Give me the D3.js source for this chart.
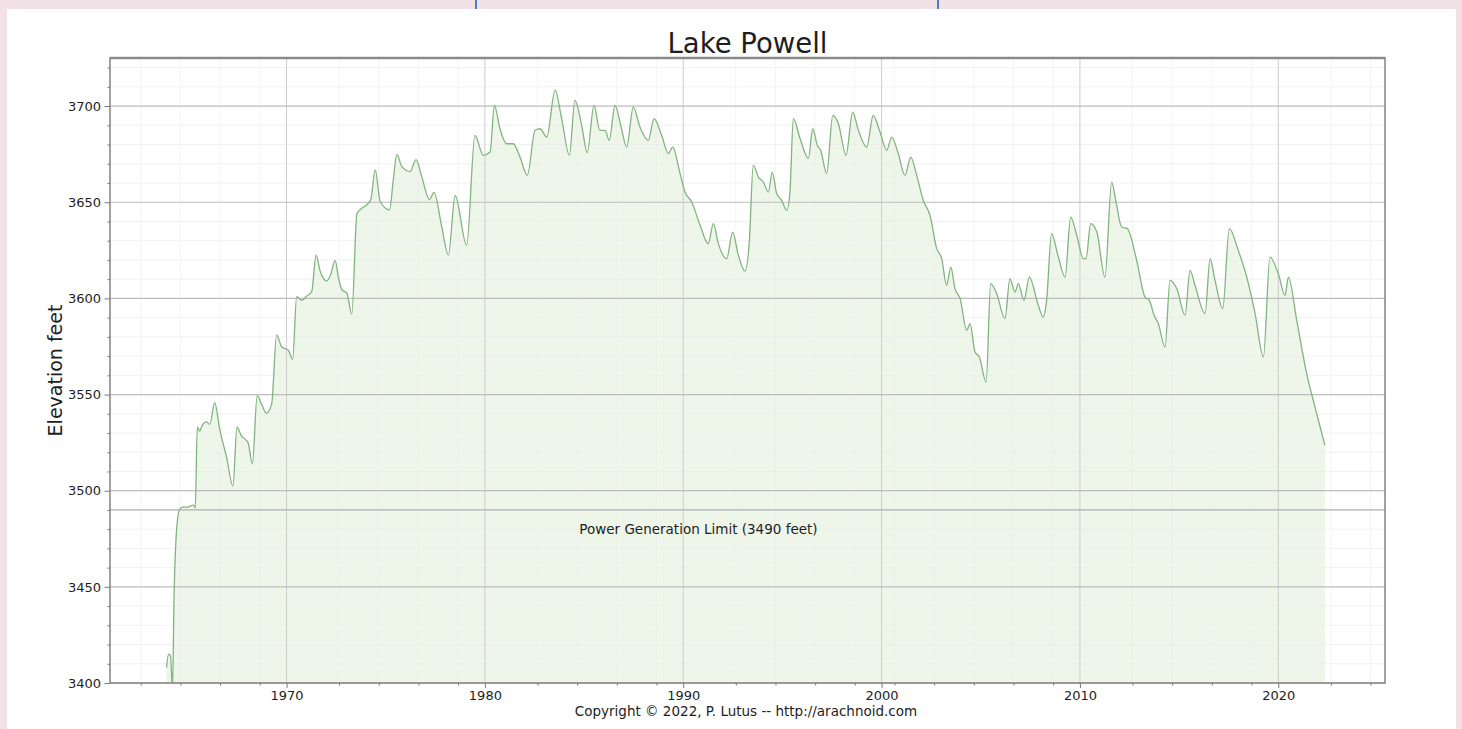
<!DOCTYPE html>
<html>
<head>
<meta charset="utf-8">
<title>Lake Powell</title>
<script src="https://cdn.jsdelivr.net/npm/d3@7"></script>
<style>
  html, body { margin: 0; padding: 0; background: #f2e2e7; }
  svg { display: block; }
  text { font-family: "DejaVu Sans", "Liberation Sans", sans-serif; fill: #1e1e1e; }
</style>
</head>
<body>
<svg id="chart" width="1462" height="729"></svg>
<script>
// Lake Powell surface elevation (feet above sea level) by decimal year
const years = [
  1963.95, 1964.05, 1964.15, 1964.25, 1964.33, 1964.46, 1964.60, 1964.75, 1965.00, 1965.30,
  1965.40, 1965.50, 1965.62, 1965.75, 1965.96, 1966.13, 1966.38, 1966.63, 1966.97, 1967.30,
  1967.50, 1967.72, 1968.06, 1968.28, 1968.52, 1968.74, 1968.99, 1969.25, 1969.50, 1969.76,
  1970.09, 1970.31, 1970.51, 1970.77, 1971.02, 1971.27, 1971.49, 1971.69, 1972.03, 1972.23,
  1972.45, 1972.62, 1972.79, 1973.04, 1973.29, 1973.55, 1973.80, 1974.05, 1974.25, 1974.47,
  1974.72, 1975.19, 1975.39, 1975.56, 1975.81, 1976.23, 1976.53, 1976.82, 1977.20, 1977.44,
  1977.83, 1978.16, 1978.50, 1979.08, 1979.50, 1979.92, 1980.26, 1980.48, 1980.76, 1981.10,
  1981.43, 1981.77, 1982.14, 1982.53, 1982.78, 1983.12, 1983.54, 1983.87, 1984.26, 1984.54,
  1984.88, 1985.16, 1985.50, 1985.80, 1986.06, 1986.27, 1986.56, 1986.85, 1987.15, 1987.48,
  1987.82, 1988.24, 1988.53, 1988.91, 1989.25, 1989.47, 1989.84, 1990.09, 1990.43, 1990.85,
  1991.26, 1991.52, 1991.77, 1992.19, 1992.49, 1992.78, 1993.11, 1993.33, 1993.53, 1993.79,
  1994.04, 1994.29, 1994.49, 1994.71, 1994.96, 1995.22, 1995.38, 1995.55, 1995.89, 1996.31,
  1996.53, 1996.76, 1996.93, 1997.23, 1997.54, 1997.82, 1998.21, 1998.54, 1998.83, 1999.25,
  1999.58, 1999.92, 2000.26, 2000.51, 2000.84, 2001.18, 2001.47, 2001.77, 2002.10, 2002.44,
  2002.78, 2003.03, 2003.28, 2003.49, 2003.70, 2003.96, 2004.29, 2004.46, 2004.71, 2004.93,
  2005.27, 2005.50, 2005.80, 2006.22, 2006.47, 2006.73, 2006.89, 2007.18, 2007.45, 2007.90,
  2008.15, 2008.32, 2008.57, 2008.91, 2009.25, 2009.53, 2009.84, 2010.17, 2010.31, 2010.54,
  2010.85, 2011.26, 2011.60, 2011.82, 2012.10, 2012.39, 2012.86, 2013.28, 2013.50, 2013.74,
  2013.95, 2014.29, 2014.54, 2014.88, 2015.30, 2015.55, 2015.80, 2016.31, 2016.56, 2016.81,
  2017.20, 2017.53, 2017.98, 2018.41, 2018.83, 2019.25, 2019.58, 2020.00, 2020.34, 2020.51,
  2020.93, 2021.43, 2021.85, 2022.35
];

const elevations = [
  3408.0, 3415.0, 3414.0, 3397.0, 3445.0, 3480.0, 3490.0, 3491.5, 3491.5, 3492.5,
  3491.0, 3533.0, 3531.0, 3534.0, 3535.8, 3534.5, 3545.8, 3532.0, 3517.7, 3502.4,
  3533.0, 3528.6, 3525.0, 3514.0, 3549.4, 3545.0, 3540.3, 3545.0, 3581.0, 3574.7,
  3573.0, 3568.3, 3600.9, 3599.0, 3601.2, 3603.6, 3622.5, 3614.4, 3609.0, 3612.6,
  3619.8, 3610.8, 3604.5, 3602.7, 3591.8, 3644.2, 3646.9, 3648.7, 3651.4, 3666.8,
  3650.5, 3646.0, 3662.3, 3674.9, 3668.6, 3665.9, 3672.2, 3663.2, 3651.4, 3655.1,
  3637.0, 3622.5, 3653.5, 3627.6, 3684.7, 3674.4, 3676.1, 3700.4, 3688.2, 3680.4,
  3680.4, 3673.5, 3664.0, 3687.4, 3688.2, 3683.9, 3708.3, 3693.5, 3674.4, 3703.0,
  3690.0, 3675.8, 3700.4, 3687.4, 3687.4, 3682.2, 3700.4, 3690.0, 3678.7, 3699.5,
  3689.1, 3682.2, 3693.5, 3684.8, 3675.3, 3678.7, 3664.9, 3655.3, 3650.1, 3638.0,
  3628.5, 3638.9, 3628.5, 3620.7, 3634.5, 3622.4, 3614.2, 3629.3, 3669.2, 3663.1,
  3660.5, 3655.3, 3665.7, 3654.5, 3651.0, 3645.8, 3655.3, 3693.5, 3683.1, 3672.7,
  3688.2, 3679.6, 3677.0, 3664.9, 3695.2, 3690.9, 3674.4, 3696.9, 3687.4, 3678.7,
  3695.2, 3686.5, 3677.0, 3683.9, 3675.3, 3664.0, 3673.5, 3664.0, 3651.0, 3643.2,
  3625.9, 3620.7, 3606.8, 3616.3, 3605.1, 3599.9, 3583.4, 3586.9, 3572.1, 3569.5,
  3556.5, 3607.7, 3602.5, 3589.5, 3610.3, 3603.3, 3607.7, 3599.0, 3611.1, 3596.4,
  3590.3, 3599.0, 3633.7, 3621.5, 3611.1, 3642.3, 3632.8, 3620.7, 3620.7, 3638.9,
  3634.5, 3611.1, 3660.5, 3650.1, 3637.1, 3636.3, 3619.8, 3600.7, 3599.0, 3591.2,
  3586.9, 3574.7, 3609.4, 3605.1, 3591.2, 3614.6, 3606.8, 3592.1, 3620.7, 3609.4,
  3594.7, 3636.3, 3625.0, 3611.1, 3592.1, 3569.5, 3621.5, 3612.9, 3601.6, 3611.1,
  3588.6, 3560.9, 3543.5, 3523.6
];

// Axis ticks
const xTicks = [1970, 1980, 1990, 2000, 2010, 2020];
const xTickLabels = ["1970", "1980", "1990", "2000", "2010", "2020"];
const xMinorTicks = [1962.65, 1964.65, 1966.65, 1968.65, 1972.65, 1974.65, 1976.65, 1978.65,
  1982.65, 1984.65, 1986.65, 1988.65, 1992.65, 1994.65, 1996.65, 1998.65, 2000.65,
  2002.65, 2004.65, 2006.65, 2008.65, 2012.65, 2014.65, 2016.65, 2018.65, 2022.65, 2024.65];
const yTicks = [3400, 3450, 3500, 3550, 3600, 3650, 3700];
const yTickLabels = ["3400", "3450", "3500", "3550", "3600", "3650", "3700"];
const yMinorTicks = [3410, 3420, 3430, 3440, 3460, 3470, 3480, 3490, 3510, 3520, 3530, 3540,
  3560, 3570, 3580, 3590, 3610, 3620, 3630, 3640, 3660, 3670, 3680, 3690, 3710, 3720];

const limitElevation = 3490;
const limitLabel = "Power Generation Limit (3490 feet)";
const chartTitle = "Lake Powell";
const yAxisTitle = "Elevation feet";
const creditText = "Copyright \u00a9 2022, P. Lutus -- http://arachnoid.com";

const xDomain = [1961.1, 2025.38];
const yDomain = [3400, 3725];

const svg = d3.select("#chart");
const W = 1462, H = 729;
const plot = { left: 110, right: 1385, top: 58, bottom: 683 };

// Page backdrop: white card on a pink page, with two blue rules above
svg.append("rect").attr("x", 0).attr("y", 0).attr("width", W).attr("height", H).attr("fill", "#f2e2e7");
svg.append("rect").attr("x", 7).attr("y", 9).attr("width", 1449).attr("height", H - 9).attr("fill", "#ffffff");
[476, 938].forEach(x => {
  svg.append("line").attr("x1", x).attr("x2", x).attr("y1", 0).attr("y2", 9)
    .attr("stroke", "#4d7cc4").attr("stroke-width", 2);
});

const x = d3.scaleLinear().domain(xDomain).range([plot.left, plot.right]);
const y = d3.scaleLinear().domain(yDomain).range([plot.bottom, plot.top]);

svg.append("defs").append("clipPath").attr("id", "plot-clip")
  .append("rect").attr("x", plot.left).attr("y", plot.top)
  .attr("width", plot.right - plot.left).attr("height", plot.bottom - plot.top);

const data = years.map((yr, i) => ({ year: yr, elev: elevations[i] }));

const area = d3.area()
  .curve(d3.curveMonotoneX)
  .x(d => x(d.year))
  .y0(y(yDomain[0]))
  .y1(d => y(d.elev));
const line = d3.line()
  .curve(d3.curveMonotoneX)
  .x(d => x(d.year))
  .y(d => y(d.elev));

// filled region under the elevation trace
const marks = svg.append("g").attr("clip-path", "url(#plot-clip)");
marks.append("path").datum(data).attr("d", area).attr("fill", "#eef6ea");

// minor grid
const grid = svg.append("g");
grid.selectAll("line.ymin").data(yMinorTicks).enter().append("line")
  .attr("x1", plot.left).attr("x2", plot.right)
  .attr("y1", d => y(d)).attr("y2", d => y(d))
  .attr("stroke", "#ececec").attr("stroke-opacity", 0.7).attr("stroke-width", 1);
grid.selectAll("line.xmin").data(xMinorTicks.filter(d => d > xDomain[0] && d < xDomain[1])).enter().append("line")
  .attr("x1", d => x(d)).attr("x2", d => x(d))
  .attr("y1", plot.top).attr("y2", plot.bottom)
  .attr("stroke", "#ececec").attr("stroke-opacity", 0.5).attr("stroke-width", 1);

// major grid
const majorGrid = svg.append("g");
majorGrid.selectAll("line.xmaj").data(xTicks).enter().append("line")
  .attr("x1", d => x(d)).attr("x2", d => x(d))
  .attr("y1", plot.top).attr("y2", plot.bottom)
  .attr("stroke", "#cdcdcd").attr("stroke-width", 1);
majorGrid.selectAll("line.ymaj").data(yTicks).enter().append("line")
  .attr("x1", plot.left).attr("x2", plot.right)
  .attr("y1", d => y(d)).attr("y2", d => y(d))
  .attr("stroke", "#bcbcbc").attr("stroke-width", 1.2);

// power generation limit
svg.append("line")
  .attr("x1", plot.left).attr("x2", plot.right)
  .attr("y1", y(limitElevation)).attr("y2", y(limitElevation))
  .attr("stroke", "#b0b0b0").attr("stroke-width", 1.2);
svg.append("text")
  .attr("x", x(1984.76)).attr("y", y(limitElevation) + 24)
  .attr("font-size", 13.5).attr("text-anchor", "start")
  .text(limitLabel);

// elevation trace
const lineLayer = svg.append("g").attr("clip-path", "url(#plot-clip)");
lineLayer.append("path").datum(data).attr("d", line)
  .attr("fill", "none").attr("stroke", "#82b480").attr("stroke-width", 1.3)
  .attr("stroke-linejoin", "round");

// frame
svg.append("rect")
  .attr("x", plot.left).attr("y", plot.top)
  .attr("width", plot.right - plot.left).attr("height", plot.bottom - plot.top)
  .attr("fill", "none").attr("stroke", "#8a8a8a").attr("stroke-width", 1.6);
svg.append("line").attr("x1", plot.left).attr("x2", plot.right)
  .attr("y1", plot.top).attr("y2", plot.top)
  .attr("stroke", "#8a8a8a").attr("stroke-width", 2.4);

// axes
const xAxis = d3.axisBottom(x).tickValues(xTicks).tickSize(5).tickPadding(3)
  .tickFormat((d, i) => xTickLabels[i]);
const gx = svg.append("g").attr("transform", `translate(0,${plot.bottom})`).call(xAxis);
const xMinorAxis = d3.axisBottom(x).tickValues(xMinorTicks.filter(d => d > xDomain[0] && d < xDomain[1]))
  .tickSize(2.5).tickFormat("");
const gxm = svg.append("g").attr("transform", `translate(0,${plot.bottom})`).call(xMinorAxis);

const yAxis = d3.axisLeft(y).tickValues(yTicks).tickSize(5.5).tickPadding(3.5)
  .tickFormat((d, i) => yTickLabels[i]);
const gy = svg.append("g").attr("transform", `translate(${plot.left},0)`).call(yAxis);
const yMinorAxis = d3.axisLeft(y).tickValues(yMinorTicks).tickSize(2.5).tickFormat("");
const gym = svg.append("g").attr("transform", `translate(${plot.left},0)`).call(yMinorAxis);

[gx, gxm, gy, gym].forEach(g => {
  g.attr("font-size", null).attr("font-family", null);
  g.select(".domain").remove();
  g.selectAll(".tick line").attr("stroke", "#7a7a7a").attr("stroke-width", 1);
  g.selectAll(".tick text")
    .style("font-size", "13px")
    .style("font-family", "'DejaVu Sans', sans-serif")
    .attr("fill", "#1e1e1e");
});

// titles
svg.append("text").attr("x", (plot.left + plot.right) / 2).attr("y", 53)
  .attr("text-anchor", "middle").attr("font-size", 27.5).text(chartTitle);
svg.append("text")
  .attr("transform", `translate(62,${(plot.top + plot.bottom) / 2}) rotate(-90)`)
  .attr("text-anchor", "middle").attr("font-size", 19).text(yAxisTitle);
svg.append("text").attr("x", 746).attr("y", 716)
  .attr("text-anchor", "middle").attr("font-size", 13.5).text(creditText);
</script>
</body>
</html>
